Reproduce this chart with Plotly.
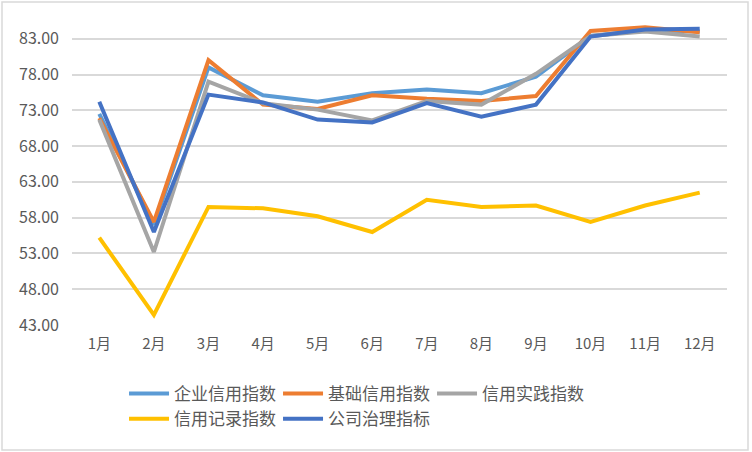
import plotly.graph_objects as go

months = ["1月", "2月", "3月", "4月", "5月", "6月", "7月", "8月", "9月", "10月", "11月", "12月"]
qiye = [72.5, 57.0, 79.0, 75.1, 74.2, 75.4, 75.9, 75.4, 77.7, 83.4, 84.2, 84.0]
jichu = [71.9, 57.4, 80.0, 73.8, 73.2, 75.1, 74.6, 74.3, 75.0, 84.1, 84.6, 83.9]
shijian = [71.7, 53.2, 77.0, 74.0, 73.1, 71.6, 74.3, 73.8, 78.1, 83.4, 84.0, 83.3]
jilu = [55.2, 44.4, 59.5, 59.3, 58.2, 56.0, 60.5, 59.5, 59.7, 57.4, 59.7, 61.5]
zhili = [74.2, 56.0, 75.2, 74.1, 71.7, 71.3, 74.0, 72.1, 73.8, 83.3, 84.3, 84.4]
y_ticks = [43, 48, 53, 58, 63, 68, 73, 78, 83]

series = [
    ("企业信用指数", qiye, "#5B9BD5"),
    ("基础信用指数", jichu, "#ED7D31"),
    ("信用实践指数", shijian, "#A5A5A5"),
    ("信用记录指数", jilu, "#FFC000"),
    ("公司治理指标", zhili, "#4472C4"),
]

fig = go.Figure()
for name, vals, color in series:
    fig.add_trace(go.Scatter(x=months, y=vals, name=name, mode="lines",
                             line=dict(color=color, width=4)))

FONT = "Noto Sans CJK SC, Noto Sans, sans-serif"
L, R, T, B = 72, 25, 13, 127
W, H = 752, 452
pw, ph = W - L - R, H - T - B

fig.update_layout(
    width=W, height=H,
    margin=dict(l=L, r=R, t=T, b=B),
    paper_bgcolor="white", plot_bgcolor="white",
    font=dict(family=FONT, color="#595959", size=15),
    xaxis=dict(type="category", range=[-0.5, 11.5], showgrid=False, showline=False,
               zeroline=False, ticks="", tickfont=dict(size=15, color="#595959"),
               ticklabelstandoff=8),
    yaxis=dict(range=[43, 86.6], tickvals=y_ticks,
               ticktext=[f"{v:.2f}" for v in y_ticks],
               showgrid=True, gridcolor="#D9D9D9", gridwidth=1.5, zeroline=False,
               showline=False, ticks="", ticklabelstandoff=12,
               tickfont=dict(size=16, color="#595959")),
    legend=dict(orientation="h", x=(132 - L) / pw, xanchor="left",
                y=(325 - 376) / ph, yanchor="top",
                entrywidth=99, entrywidthmode="pixels",
                font=dict(size=17, color="#595959"), tracegroupgap=0,
                itemwidth=40),
    showlegend=True,
    shapes=[dict(type="rect", xref="paper", yref="paper",
                 x0=(2 - L) / pw, x1=(748 - L) / pw,
                 y0=(H - B - 450) / ph, y1=(H - B - 2) / ph,
                 line=dict(color="#D9D9D9", width=1.5), layer="below")],
)

fig.write_html("out.html")
